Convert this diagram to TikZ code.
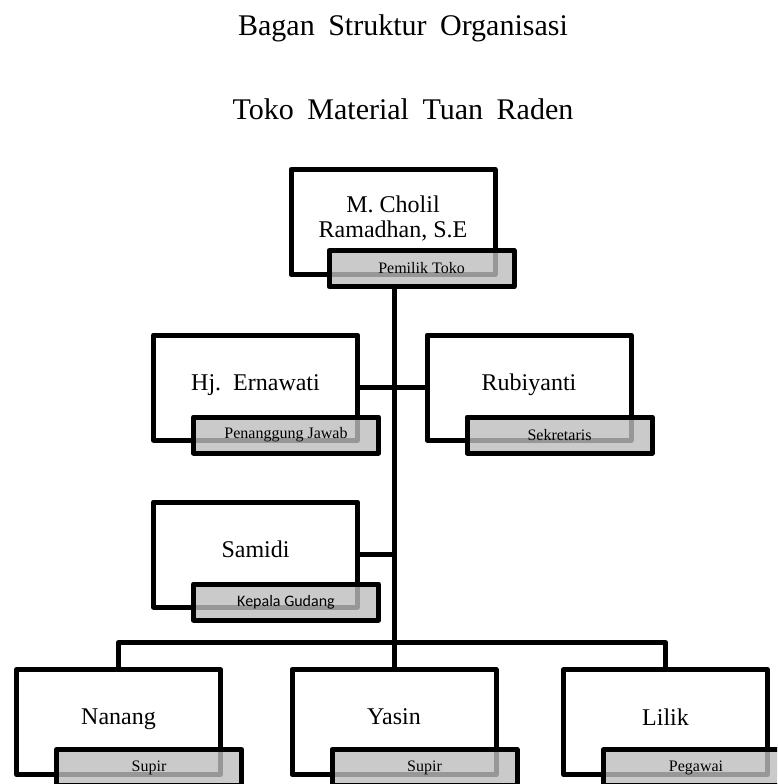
\documentclass[tikz,border=0pt]{standalone}
\usepackage{fontspec}
\setmainfont{Liberation Serif}
\newfontfamily\judulfont[WordSpace=1.8]{Liberation Serif}
\newfontfamily\calibri{Carlito}

\begin{document}
\begin{tikzpicture}[x=1pt, y=-1pt, line width=5pt, line join=round,
  kotak/.style={draw, rectangle, inner sep=0pt, outer sep=0pt, fill=white,
    minimum width=204pt, minimum height=105pt, align=center,
    font=\fontsize{24}{25}\selectfont, text depth=10pt},
  jabatan/.style={draw, rectangle, inner sep=0pt, outer sep=0pt,
    fill=black!26, fill opacity=0.8, text opacity=1, draw opacity=1,
    minimum width=185pt, minimum height=36pt, anchor=north west,
    font=\fontsize{16}{18}\selectfont}]

\useasboundingbox (0,0) rectangle (777,784);
\clip (0,0) rectangle (777,784);

% judul
\node[anchor=base, font=\judulfont\fontsize{30}{36}\selectfont] (judul1) at (403,36) {Bagan Struktur Organisasi};
\node[anchor=base, font=\judulfont\fontsize{30}{36}\selectfont] (judul2) at (403,119) {Toko Material Tuan Raden};

% kotak nama
\node[kotak] (pemilik) at (393,222) {M. Cholil\\Ramadhan, S.E};
\node[kotak] (ernawati) at (255.5,387.5) {Hj.~~Ernawati};
\node[kotak] (rubiyanti) at (529,387.5) {Rubiyanti};
\node[kotak] (samidi) at (255.5,554.5) {Samidi};
\node[kotak] (nanang) at (118.5,722) {Nanang};
\node[kotak] (yasin) at (394,722) {Yasin};
\node[kotak] (lilik) at (665.5,722) {Lilik};

% garis
\coordinate (bus) at ([yshift=27pt]yasin.north);
\draw (ernawati.east) -- (rubiyanti.west);
\draw (samidi.east) -- (samidi.east -| yasin.north);
\draw (nanang.north) |- (bus) -| (lilik.north);

% kotak jabatan
\node[jabatan] (pemilikJ) at ([shift={(38,-24)}]pemilik.south west) {Pemilik Toko};
\node[jabatan] (ernawatiJ) at ([shift={(40,-23)}]ernawati.south west) {Penanggung Jawab};
\node[jabatan] (rubiyantiJ) at ([shift={(40,-23)}]rubiyanti.south west) {Sekretaris};
\node[jabatan, font=\calibri\fontsize{16}{18}\selectfont] (samidiJ) at ([shift={(40,-23)}]samidi.south west) {Kepala Gudang};
\node[jabatan] (nanangJ) at ([shift={(40,-25)}]nanang.south west) {Supir};
\node[jabatan] (yasinJ) at ([shift={(40,-25)}]yasin.south west) {Supir};
\node[jabatan] (lilikJ) at ([shift={(40,-25)}]lilik.south west) {Pegawai};

\draw (pemilikJ.south -| yasin.north) -- (yasin.north);

\end{tikzpicture}
\end{document}
